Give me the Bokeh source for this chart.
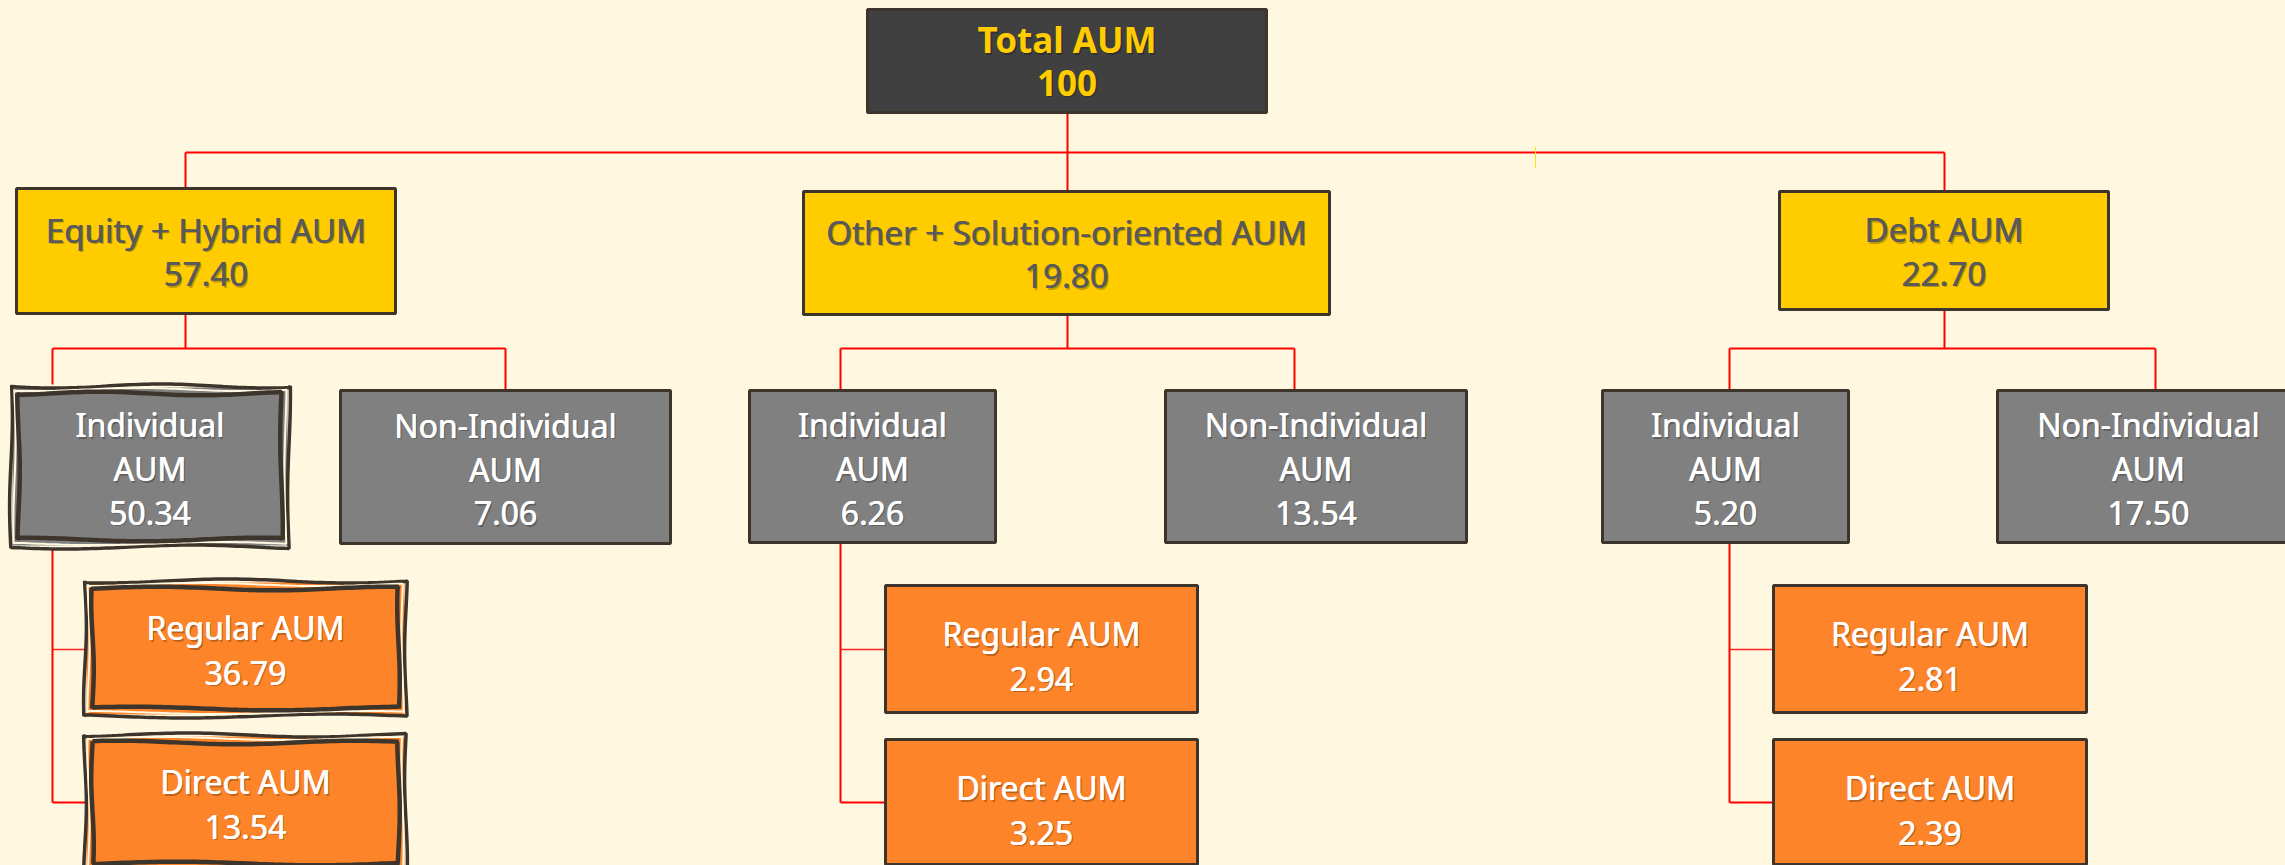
import numpy as np
from bokeh.plotting import figure
from bokeh.models import Range1d
from bokeh.core.properties import value
from bokeh.embed import file_html
from bokeh.resources import INLINE

# ---------------- data ----------------
total_label = "Total AUM"
total_value = "100"
category_labels = ["Equity + Hybrid AUM", "Other + Solution-oriented AUM", "Debt AUM"]
category_values = [57.40, 19.80, 22.70]
investor_labels = ["Individual AUM", "Non-Individual AUM"]
individual_values = [50.34, 6.26, 5.20]
non_individual_values = [7.06, 13.54, 17.50]
plan_labels = ["Regular AUM", "Direct AUM"]
regular_values = [36.79, 2.94, 2.81]
direct_values = [13.54, 3.25, 2.39]

# ---------------- layout (page pixel coordinates) ----------------
W, H = 2285, 865
BG = "#FFF8E1"
RED = "#FF0000"
BORDER = "#3D342B"
YELLOW = "#FFCC00"
GRAY = "#808080"
ORANGE = "#FD8428"
DARK = "#404040"
L1_TEXT = "#595959"

root_box = (867, 1266, 9, 112)
cat_boxes = [(16, 395, 188, 313), (803, 1329, 191, 314), (1779, 2108, 191, 309)]
cat_link_x = [185, 1067, 1944]
inv_boxes = [[(9, 290, 384, 548), (340, 670, 390, 543)],
             [(749, 995, 390, 542), (1165, 1466, 390, 542)],
             [(1602, 1848, 390, 542), (1997, 2299, 390, 542)]]
inv_link_x = [[52, 505], [840, 1294], [1729, 2155]]
plan_boxes = [[(83, 407, 579, 717), (83, 407, 733, 872)],
              [(885, 1197, 585, 712), (885, 1197, 739, 864)],
              [(1773, 2086, 585, 712), (1773, 2086, 739, 864)]]
plan_link_y = [649, 802]
ROOT_BUS_Y = 152
CAT_BUS_Y = 348
highlight_branch = 0

p = figure(width=W, height=H, output_backend="svg", toolbar_location=None,
           x_range=Range1d(0, W), y_range=Range1d(H, 0),
           x_axis_type=None, y_axis_type=None, min_border=0,
           background_fill_color=BG, border_fill_color=BG, outline_line_color=None)
p.grid.visible = False


def seg(x0, y0, x1, y1, w=2.0, color=RED, alpha=1.0):
    p.line([x0, x1], [y0, y1], line_color=color, line_width=w, line_alpha=alpha)


def plain_box(b, fill):
    l, r, t, bt = b
    p.quad(left=[l], right=[r], top=[t], bottom=[bt], fill_color=fill,
           line_color=BORDER, line_width=3)


def wobble(l, r, t, b, amp, phase, n=60):
    xs, ys = [], []
    s = np.linspace(0, 1, n)
    xs += list(l + (r - l) * s); ys += list(t + amp * np.sin(2 * np.pi * 1.3 * s + phase))
    xs += list(r + amp * 0.7 * np.sin(2 * np.pi * 0.8 * s + phase + 1)); ys += list(t + (b - t) * s)
    xs += list(r - (r - l) * s); ys += list(b + amp * np.sin(2 * np.pi * 1.1 * s + phase + 2))
    xs += list(l + amp * 0.7 * np.sin(2 * np.pi * 0.9 * s + phase + 3)); ys += list(b - (b - t) * s)
    xs.append(xs[0]); ys.append(ys[0])
    return xs, ys


def sketch_box(b, fill, ph):
    l, r, t, bt = b
    p.quad(left=[l + 3], right=[r - 3], top=[t + 3], bottom=[bt - 3], fill_color=fill, line_color=None)
    xs, ys = wobble(l + 1.5, r - 1.5, t + 1.5, bt - 1.5, 2.0, ph)
    p.line(xs, ys, line_color=BORDER, line_width=3.5)
    xs, ys = wobble(l + 5, r - 5, t + 5, bt - 5, 1.6, ph + 0.7)
    p.line(xs, ys, line_color=BG, line_width=2)
    xs, ys = wobble(l + 9, r - 9, t + 9, bt - 9, 1.8, ph + 1.9)
    p.line(xs, ys, line_color=BORDER, line_width=4.5)


def texts(lines, cx, cy, color, font, size, spacing, off, bold=False, heavy=True):
    n = len(lines)
    ys = [cy + (i - (n - 1) / 2) * spacing + off for i in range(n)]
    xs = [cx] * n
    style = "bold" if bold else "normal"
    p.text(x=[x + 1.5 for x in xs], y=[y + 1.5 for y in ys], text=lines, text_font=value(font),
           text_font_size=f"{size}px", text_font_style=style, text_color="#000000", text_alpha=0.25,
           text_align="center", text_baseline="alphabetic")
    shifts = [-0.35, 0.35] if heavy else [0.0]
    for dx in shifts:
        p.text(x=[x + dx for x in xs], y=ys, text=lines, text_font=value(font), text_font_size=f"{size}px",
               text_font_style=style, text_color=color, text_align="center", text_baseline="alphabetic")


def center(b):
    return (b[0] + b[1]) / 2, (b[2] + b[3]) / 2


# ---------------- connectors ----------------
seg(cat_link_x[1], root_box[3], cat_link_x[1], ROOT_BUS_Y)
seg(cat_link_x[0], ROOT_BUS_Y, cat_link_x[-1], ROOT_BUS_Y, w=2.2)
for i, cx in enumerate(cat_link_x):
    seg(cx, ROOT_BUS_Y, cx, cat_boxes[i][2])
    seg(cx, cat_boxes[i][3], cx, CAT_BUS_Y)
    ix = inv_link_x[i]
    seg(ix[0], CAT_BUS_Y, ix[1], CAT_BUS_Y)
    for j in range(2):
        seg(ix[j], CAT_BUS_Y, ix[j], inv_boxes[i][j][2])
    ind = inv_boxes[i][0]
    seg(ix[0], ind[3], ix[0], plan_link_y[1])
    for k in range(2):
        seg(ix[0], plan_link_y[k], plan_boxes[i][k][0] + 2, plan_link_y[k],
            w=1.6 if k == 0 else 2.2, alpha=0.85 if k == 0 else 1.0)
# small stray tick on the top bus
seg(1535, 146, 1535, 167, w=1, color="#FFE000")

# ---------------- boxes & labels ----------------
plain_box(root_box, DARK)
cx, cy = center(root_box)
texts([total_label, total_value], cx, cy, YELLOW, "Noto Sans", 35, 43, 0, bold=True, heavy=False)

for i in range(3):
    b = cat_boxes[i]
    plain_box(b, YELLOW)
    cx, cy = center(b)
    texts([category_labels[i], f"{category_values[i]:.2f}"], cx, cy, L1_TEXT, "Noto Sans", 33, 44, 1)

    inv_vals = [individual_values[i], non_individual_values[i]]
    for j in range(2):
        b = inv_boxes[i][j]
        if i == highlight_branch and j == 0:
            sketch_box(b, GRAY, 0.3)
        else:
            plain_box(b, GRAY)
        cx, cy = center(b)
        words = investor_labels[j].rsplit(" ", 1)
        texts(words + [f"{inv_vals[j]:.2f}"], cx, cy, "#FFFFFF", "Noto Sans", 32, 44, 2)

    plan_vals = [regular_values[i], direct_values[i]]
    for k in range(2):
        b = plan_boxes[i][k]
        if i == highlight_branch:
            sketch_box(b, ORANGE, 1.1 + k)
        else:
            plain_box(b, ORANGE)
        cx = (b[0] + b[1]) / 2
        cy = (b[2] + b[2] + 127) / 2
        texts([plan_labels[k], f"{plan_vals[k]:.2f}"], cx, cy, "#FFFFFF", "Noto Sans", 32, 45, 7)

html = file_html(p, INLINE)
html = html.replace("</head>", f"<style>body{{background:{BG};}}</style></head>", 1)
open("out.html", "w").write(html)
